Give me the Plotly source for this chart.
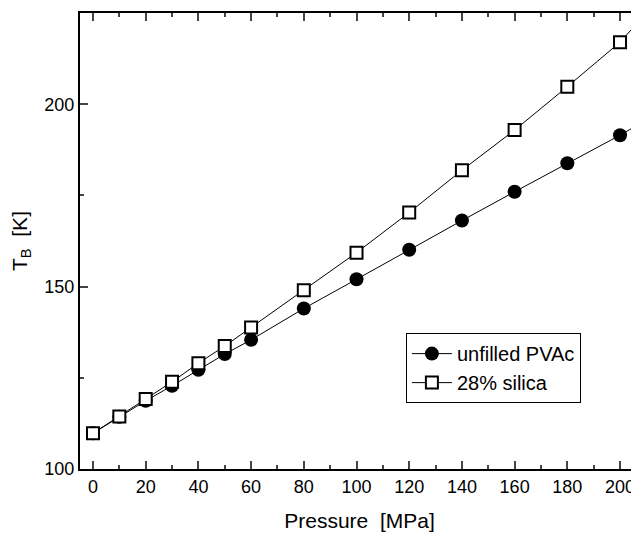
import plotly.graph_objects as go

# pressione (MPa) e temperatura T_B (K)
pressure = [0, 10, 20, 30, 40, 50, 60, 80, 100, 120, 140, 160, 180, 200, 220]
tb_unfilled = [109.8, 114.3, 118.7, 122.8, 127.2, 131.5, 135.4, 144.0, 152.0, 160.1, 168.1, 176.0, 183.8, 191.5, 199.9]
tb_silica = [109.8, 114.4, 119.2, 123.9, 129.0, 133.7, 138.8, 149.0, 159.3, 170.3, 181.9, 192.9, 204.8, 217.0, 233.0]

x_ticks = [0, 20, 40, 60, 80, 100, 120, 140, 160, 180, 200]
y_ticks = [100, 150, 200]

fig = go.Figure()
fig.add_trace(go.Scatter(x=pressure, y=tb_unfilled, mode="lines+markers", name="unfilled PVAc",
                         line=dict(color="black", width=1),
                         marker=dict(symbol="circle", size=14, color="black")))
fig.add_trace(go.Scatter(x=pressure, y=tb_silica, mode="lines+markers", name="28% silica",
                         line=dict(color="black", width=1),
                         marker=dict(symbol="square", size=12, color="white",
                                     line=dict(color="black", width=2))))

# la pagina ha un margine di 8px, quindi la figura e' un po' piu' piccola
fig.update_layout(
    width=631, height=525,
    margin=dict(l=72, r=0, t=5, b=64),
    plot_bgcolor="white", paper_bgcolor="white",
    font=dict(family="Liberation Sans, Arial", size=18, color="black"),
    showlegend=True,
    legend=dict(x=0.583, y=0.298, xanchor="left", yanchor="top",
                bordercolor="black", borderwidth=1, bgcolor="white",
                font=dict(size=20), tracegroupgap=0, itemwidth=40),
)
fig.update_xaxes(
    range=[-4.93, 207.2], tickvals=x_ticks, ticks="inside", ticklen=8, tickwidth=2,
    showline=True, linecolor="black", linewidth=2, mirror="ticks", showgrid=False, zeroline=False,
    minor=dict(ticks="inside", dtick=10, tick0=0, ticklen=4, tickwidth=2, showgrid=False),
    title=dict(text="Pressure  [MPa]", font=dict(size=21), standoff=18),
)
fig.update_yaxes(
    range=[100, 225], tickvals=y_ticks, ticks="inside", ticklen=8, tickwidth=2,
    showline=True, linecolor="black", linewidth=2, mirror=False, showgrid=False, zeroline=False,
    minor=dict(ticks="inside", dtick=25, tick0=100, ticklen=4, tickwidth=2, showgrid=False),
    title=dict(text="T<sub>B</sub>  [K]", font=dict(size=21), standoff=12),
)

fig.write_html("out.html")
